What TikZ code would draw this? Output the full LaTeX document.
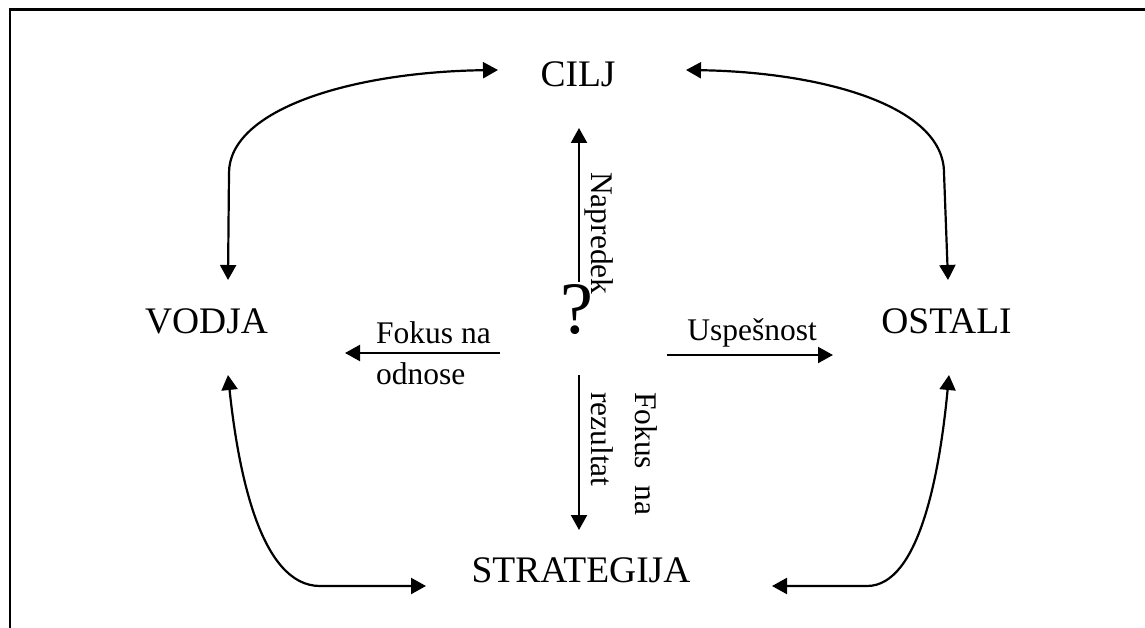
\documentclass[tikz,border=0pt]{standalone}
\usepackage{fontspec}
\setmainfont{Liberation Serif}
\usetikzlibrary{arrows.meta}
\begin{document}
\begin{tikzpicture}[x=1pt,y=-1pt,
  conn/.style={line width=2.2pt, -{Triangle[length=15pt,width=16pt]}},
  biconn/.style={line width=2.2pt, {Triangle[length=15pt,width=16pt]}-{Triangle[length=15pt,width=16pt]}},
  term/.style={font=\fontsize{37.5}{45}\selectfont, inner sep=0pt, anchor=base},
  lbl/.style={font=\fontsize{31.5}{38}\selectfont, inner sep=0pt},
  vlbl/.style={lbl, rotate=-90, anchor=base west},
]
\useasboundingbox (0,0) rectangle (1145,628);

% frame edges
\draw[line width=2.8pt] (9,9.3) -- (1145,9.3);
\draw[line width=2pt] (10,8.5) -- (10,628);

% main terms
\node[term] (cilj) at (578,87) {CILJ};
\node[term] (vodja) at (206.5,333) {VODJA};
\node[term] (ostali) at (946.5,333) {OSTALI};
\node[term] (strategija) at (581,582) {STRATEGIJA};
\node[font=\fontsize{74}{86}\selectfont, inner sep=0pt, anchor=base] (q) at (577,333) {?};

% ends of the central arrows
\coordinate (upS) at (579,282);
\coordinate (upE) at (579,128);
\coordinate (dnS) at (579,375);
\coordinate (dnE) at (579,530);
\coordinate (lfS) at (500,353);
\coordinate (lfE) at (345,353);
\coordinate (rtS) at (667,355);
\coordinate (rtE) at (833,355);

\draw[conn] (upS) -- (upE);
\draw[conn] (dnS) -- (dnE);
\draw[conn] (lfS) -- (lfE);
\draw[conn] (rtS) -- (rtE);

% labels of the central arrows
\node[vlbl] (napredek) at (591,172) {Napredek};
\node[vlbl] (rezultat) at (591,392) {rezultat};
\node[vlbl] (fokusR) at (635,392) {\makebox[123pt][s]{Fokus na}};
\node[lbl, anchor=base west] (fokusL) at (376,343) {Fokus na};
\node[lbl, anchor=base west] (odnose) at (376,384) {odnose};
\node[lbl, anchor=base east] (uspesnost) at (817,340) {Uspešnost};

% ends of the outer curved links
\coordinate (vTop) at (228,280);
\coordinate (cLeft) at (498,70);
\coordinate (cRight) at (686,70);
\coordinate (oTop) at (948,280);
\coordinate (vBot) at (228,375);
\coordinate (sLeft) at (426,586);
\coordinate (oBot) at (949,375);
\coordinate (sRight) at (772,586);

\draw[biconn] (vTop) -- (229,173) .. controls (229,110) and (350,72) .. (cLeft);
\draw[biconn] (cRight) .. controls (820,72) and (944,105) .. (944,173) -- (oTop);
\draw[biconn] (vBot) .. controls (238,470) and (260,586) .. (320,586) -- (sLeft);
\draw[biconn] (oBot) .. controls (940,470) and (920,586) .. (867,586) -- (sRight);
\end{tikzpicture}
\end{document}
